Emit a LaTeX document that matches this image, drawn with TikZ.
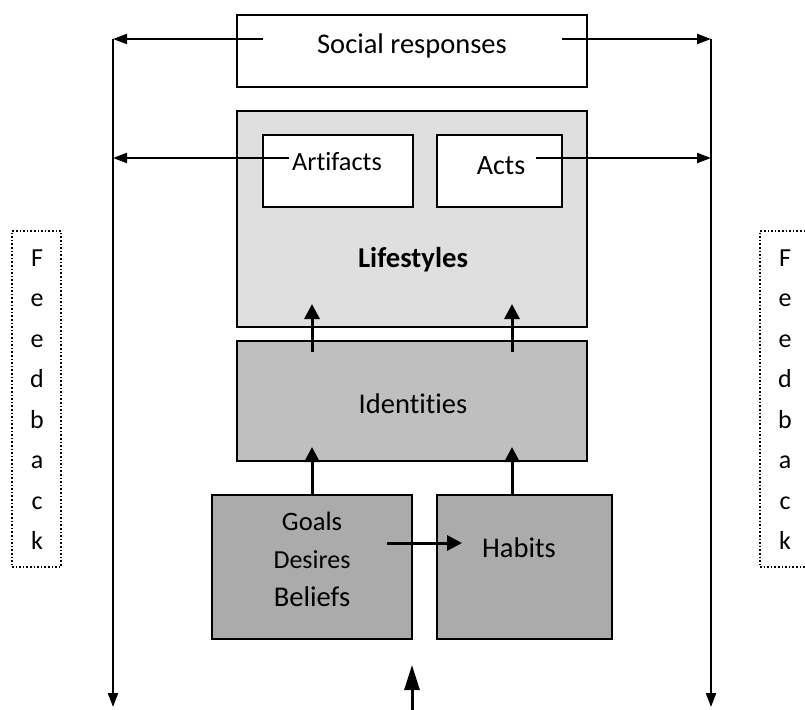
\documentclass[tikz,border=0pt]{standalone}
\usepackage{fontspec}
\setmainfont[Ligatures=NoCommon]{Carlito}
\usetikzlibrary{arrows.meta}

\begin{document}
\begin{tikzpicture}[x=1pt, y=-1pt,
  every node/.style={inner sep=0pt, font=\fontsize{28.5}{34}\selectfont},
  box/.style={draw, line width=2pt, minimum width=#1},
  fbbox/.style={draw, dotted, line width=1.6pt, minimum width=49pt, minimum height=336pt},
  txt/.style={anchor=base},
  flow/.style={-{Triangle[length=15pt,width=15pt]}, line width=3pt},
  side/.style={-{Triangle[length=14pt,width=10pt]}, line width=2.2pt}]
  \path[use as bounding box, clip] (0,0) rectangle (805,709);

  % boxes
  \node [box=350pt, minimum height=72pt] (socialbox) at (412,51) {};
  \node [box=350pt, minimum height=216pt, fill=black!12.5] (lifebox) at (412,219) {};
  \node [box=150pt, minimum height=72pt, fill=white] (artbox) at (338,171) {};
  \node [box=125pt, minimum height=72pt, fill=white] (actbox) at (499.5,171) {};
  \node [box=350pt, minimum height=120pt, fill=black!25] (idbox) at (412,401) {};
  \node [box=200pt, minimum height=144pt, fill=black!33] (goalbox) at (312,567) {};
  \node [box=175pt, minimum height=144pt, fill=black!33] (habitbox) at (524.5,567) {};
  \node [fbbox] (fbL) at (36.5,399) {};
  \node [fbbox] (fbR) at (784.5,399) {};

  % texts
  \node [txt] (socialtxt) at (412,54) {Social responses};
  \node [txt, font=\fontsize{26.3}{32}\selectfont] (arttxt) at (337,170) {Artifacts};
  \node [txt, font=\fontsize{28}{34}\selectfont] (acttxt) at (501,174) {Acts};
  \node [txt, font=\fontsize{28.7}{34}\selectfont\bfseries] (lifetxt) at (413,267) {Lifestyles};
  \node [txt] (idtxt) at (413,413) {Identities};
  \node [txt, font=\fontsize{26.6}{32}\selectfont] (goaltxt) at (312,530) {Goals};
  \node [txt, font=\fontsize{26}{32}\selectfont] (desiretxt) at (312,568) {Desires};
  \node [txt, font=\fontsize{28.6}{34}\selectfont] (belieftxt) at (312,606) {Beliefs};
  \node [txt] (habittxt) at (519,557) {Habits};
  \foreach \c [count=\i from 0] in {F,e,e,d,b,a,c,k} {
    \node [txt, font=\fontsize{26}{32}\selectfont] (fbL\i) at (37,266+40.5*\i) {\c};
    \node [txt, font=\fontsize{26}{32}\selectfont] (fbR\i) at (785,266+40.5*\i) {\c};
  }

  % free ends
  \coordinate (topL) at (113,39);
  \coordinate (topR) at (711,39);
  \coordinate (botL) at (113,707);
  \coordinate (botR) at (711,707);
  \coordinate (socL) at (263,39);
  \coordinate (socR) at (562,39);
  \coordinate (artL) at (289,158);
  \coordinate (actR) at (536,158);
  \coordinate (idA) at (312,352);
  \coordinate (idB) at (512,352);
  \coordinate (lifeA) at (312,304);
  \coordinate (lifeB) at (512,304);
  \coordinate (inA) at (312,447);
  \coordinate (inB) at (512,447);
  \coordinate (gdb) at (387,543);
  \coordinate (hab) at (462,543);
  \coordinate (extIn) at (412,712);
  \coordinate (extTip) at (412,665);

  % connectors
  \draw [side] (socL) -- (topL);
  \draw [side] (socR) -- (topR);
  \draw [side] (topL) -- (botL);
  \draw [side] (topR) -- (botR);
  \draw [side] (artL) -- (artL -| topL);
  \draw [side] (actR) -- (actR -| topR);
  \draw [flow] (idA) -- (lifeA);
  \draw [flow] (idB) -- (lifeB);
  \draw [flow] (goalbox.north) -- (inA);
  \draw [flow] (habitbox.north -| inB) -- (inB);
  \draw [flow] (gdb) -- (hab);
  \draw [-{Triangle[length=25pt,width=15pt]}, line width=3pt] (extIn) -- (extTip);
\end{tikzpicture}
\end{document}
